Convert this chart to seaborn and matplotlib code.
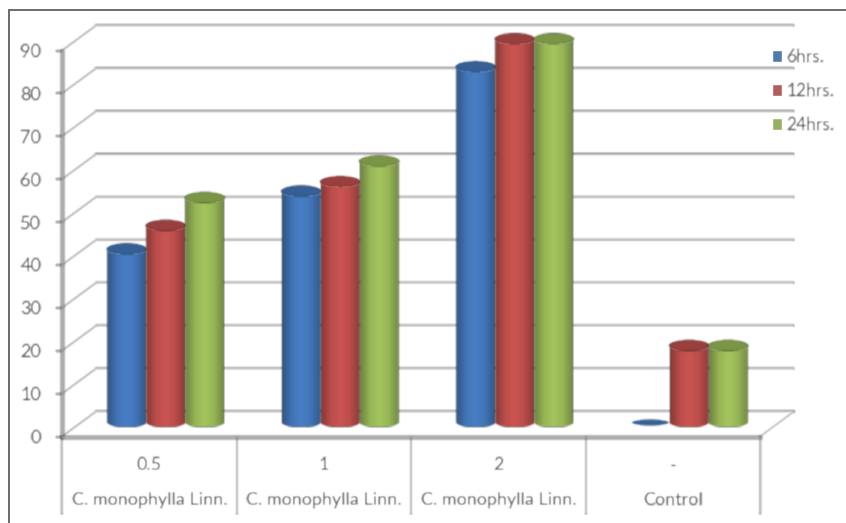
import numpy as np
import pandas as pd
import matplotlib
matplotlib.use('Agg')
import matplotlib.pyplot as plt
import seaborn as sns
from matplotlib.lines import Line2D
from matplotlib.patches import Ellipse, PathPatch
from matplotlib.path import Path
from matplotlib.colors import to_rgb, LinearSegmentedColormap

doses = ['0.5', '1', '2', '-']
plants = ['C. monophylla Linn.', 'C. monophylla Linn.', 'C. monophylla Linn.', 'Control']
hrs6 = [40.5, 54, 83, 0]
hrs12 = [46, 56.2, 89.5, 18]
hrs24 = [52.5, 61, 89.5, 18]
series = ['6hrs.', '12hrs.', '24hrs.']
colors = ['#4478BC', '#C0504D', '#9BBB59']
yticks = list(range(0, 100, 10))

df = pd.DataFrame({
    'dose': doses * 3,
    'time': np.repeat(series, 4),
    'value': hrs6 + hrs12 + hrs24,
})


def soften(img, dpi):
    # the reference is a blurry scan, so smear each artist a little
    pad = 4
    a = np.pad(img, ((pad, pad), (pad, pad), (0, 0)))
    k = np.exp(-np.arange(-3, 4) ** 2 / (2 * 0.8 ** 2))
    k = k / k.sum()
    for axis in (0, 1):
        a = np.apply_along_axis(lambda m: np.convolve(m, k, mode='same'), axis, a)
    return a, -pad, -pad


sns.set_style('white')
plt.rcParams['font.family'] = ['Lato', 'DejaVu Sans']
grey = '#b9b9b9'
txt = '#4f4f4f'

fig = plt.figure(figsize=(8.46, 5.23), dpi=100)
ax = fig.add_axes([62 / 846, (523 - 436.5) / 523, 698 / 846, 386 / 523])
sns.barplot(data=df, x='dose', y='value', hue='time', order=doses, hue_order=series,
            palette=colors, width=0.67, gap=0, errorbar=None, ax=ax)

upx = 90 / 386      # data units per pixel, y
xpx = 1 / 174.5     # data units per pixel, x
back_x, back_y = 34 * xpx, 25 * upx
mid_x, mid_y = 16.5 * xpx, 14 * upx
cap = 5 * upx

# back wall and floor
for v in yticks:
    ax.plot([-0.5, -0.5 + back_x, 3.5 + back_x], [v, v + back_y, v + back_y],
            color=grey, lw=1.6, zorder=1, clip_on=False, solid_capstyle='butt')
ax.plot([3.5, 3.5 + back_x], [0, back_y], color=grey, lw=1.4, zorder=1, clip_on=False)
ax.vlines([-0.5, 0.5, 1.5, 2.5, 3.5], -18, 0, color=grey, lw=1.6, zorder=1, clip_on=False)

# turn the flat bars into cylinders
z = 3
for cont, c in zip(ax.containers, colors):
    rgb = np.array(to_rgb(c))
    cmap = LinearSegmentedColormap.from_list('c', [rgb * 0.7, rgb * 0.97, np.minimum(rgb * 1.06, 1),
                                                   rgb * 0.97, rgb * 0.74])
    for bar in cont:
        x0, w, h = bar.get_x() + mid_x, bar.get_width(), bar.get_height()
        bar.set_visible(False)
        y0 = mid_y
        if h > 0:
            t = np.linspace(-1, 1, 40)
            xs = x0 + w / 2 + t * w / 2
            ys = y0 - cap * np.sqrt(1 - t ** 2)
            verts = [(x0, y0 + h)] + list(zip(xs, ys)) + [(x0 + w, y0 + h), (x0, y0 + h)]
            clip = PathPatch(Path(verts, closed=True), transform=ax.transData, fc='none', ec='none')
            ax.add_patch(clip)
            im = ax.imshow(np.linspace(0, 1, 64)[None, :], cmap=cmap, aspect='auto',
                           extent=[x0, x0 + w, y0 - cap, y0 + h], zorder=z)
            im.set_clip_path(clip)
            im.set_clip_box(fig.bbox)
            ax.add_patch(Ellipse((x0 + w / 2, y0 + h), w, 2 * cap, fc=rgb * 0.8, ec=rgb * 0.7,
                                 lw=0.8, zorder=z + 0.5, clip_on=False))
        else:
            ax.add_patch(Ellipse((x0 + w / 2, y0 + h), w * 0.95, 1.2 * cap, fc=rgb * 0.8, ec='none',
                                 zorder=z + 0.5, clip_on=False))
        z += 1

ax.set_xlim(-0.5, 3.5)
ax.set_ylim(0, 90)
ax.set_xlabel('')
ax.set_ylabel('')
ax.set_yticks(yticks)
ax.set_xticks(range(4))
ax.set_xticklabels([d + '\n' + p for d, p in zip(doses, plants)], linespacing=2.45)
ax.tick_params(axis='y', length=4, width=1.2, color=grey, labelsize=13, labelcolor=txt, pad=11, left=True)
ax.tick_params(axis='x', length=0, labelsize=13, labelcolor=txt, pad=15)
sns.despine(ax=ax, top=True, right=True)
for s in ['left', 'bottom']:
    ax.spines[s].set_color(grey)
    ax.spines[s].set_linewidth(2)
ax.patch.set_alpha(0)

sns.move_legend(ax, 'upper left', bbox_to_anchor=(772 / 846, 1 - 49 / 523), bbox_transform=fig.transFigure,
                frameon=False, title=None, fontsize=12.5, handlelength=0.58, handleheight=0.7,
                handletextpad=0.25, labelspacing=1.05, labelcolor=txt, borderpad=0, borderaxespad=0)

for a in ax.findobj(lambda o: isinstance(o, (Line2D, matplotlib.text.Text, Ellipse,
                                             matplotlib.image.AxesImage, matplotlib.collections.LineCollection))):
    a.set_agg_filter(soften)
for s in ax.spines.values():
    s.set_agg_filter(soften)

# picture frame
fig.add_artist(Line2D([9 / 846, 9 / 846], [0, 1 - 10 / 523], color='#6a6a6a', lw=1.4))
fig.add_artist(Line2D([9 / 846, 1], [1 - 10 / 523, 1 - 10 / 523], color='#6a6a6a', lw=1.4))

fig.savefig('out.png', dpi=100)
